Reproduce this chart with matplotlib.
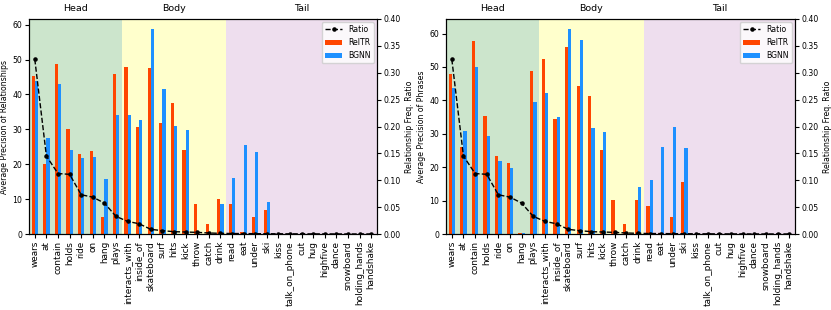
import numpy as np
import matplotlib.pyplot as plt

# ------------------------------------------------
# data
predicates = [
    "wears", "at", "contain", "holds", "ride", "on", "hang", "plays",
    "interacts_with", "inside_of", "skateboard", "surf", "hits", "kick",
    "throw", "catch", "drink", "read", "eat", "under", "ski", "kiss",
    "talk_on_phone", "cut", "hug", "highfive", "dance", "snowboard",
    "holding_hands", "handshake",
]

ratio = [
    0.325, 0.145, 0.1125, 0.111, 0.073, 0.0686, 0.0575, 0.0328,
    0.0235, 0.019, 0.0087, 0.0062, 0.0043, 0.0037, 0.003, 0.0019,
    0.0012, 0.0009, 0.0008, 0.0006, 0.0005, 0.0004, 0.0003, 0.0003,
    0.0002, 0.0002, 0.0001, 0.0001, 0.0001, 0.0001,
]

# average precision of relationships
reltr_rel = [
    45.4, 20.2, 48.8, 30.1, 22.8, 23.9, 4.8, 45.9,
    47.8, 30.7, 47.6, 31.8, 37.6, 24.1, 8.7, 2.9,
    10.1, 8.5, 0.5, 5.0, 6.9, 0, 0, 0,
    0, 0, 0, 0, 0, 0,
]
bgnn_rel = [
    43.9, 27.5, 43.0, 24.1, 21.7, 22.1, 15.9, 34.1,
    34.1, 32.6, 58.7, 41.7, 30.9, 29.8, 0, 0,
    8.5, 16.0, 25.4, 23.6, 9.2, 0, 0, 0,
    0, 0, 0, 0, 0, 0,
]

# average precision of phrases
reltr_phr = [
    47.8, 25.9, 57.8, 35.3, 23.5, 21.4, 0.4, 48.7,
    52.4, 34.5, 56.0, 44.3, 41.3, 25.0, 10.2, 2.9,
    10.1, 8.4, 0.4, 5.0, 15.5, 0, 0, 0,
    0, 0, 0, 0, 0, 0,
]
bgnn_phr = [
    43.7, 30.9, 50.0, 29.2, 21.9, 19.7, 0.4, 39.5,
    42.1, 35.1, 61.3, 58.0, 31.7, 30.4, 0, 0,
    14.1, 16.1, 25.9, 32.0, 25.8, 0, 0, 0,
    0, 0, 0, 0, 0, 0,
]

# group boundaries (index of first predicate of each group)
groups = ["Head", "Body", "Tail"]
group_start = [0, 8, 17]
group_colors = [("green", 0.2), ("yellow", 0.2), ("purple", 0.13)]

RELTR_COLOR = "#ff4500"
BGNN_COLOR = "#1e90ff"
WIDTH = 0.28


def draw_panel(ax, reltr, bgnn, ylabel):
    x = np.arange(len(predicates))
    edges = group_start + [len(predicates)]
    for k, name in enumerate(groups):
        lo, hi = edges[k] - 0.5, edges[k + 1] - 0.5
        col, alpha = group_colors[k]
        ax.axvspan(lo, hi, color=col, alpha=alpha, lw=0)
        ax.text((lo + hi) / 2, 1.03, name, transform=ax.get_xaxis_transform(),
                ha="center", va="bottom", fontsize=6.8)

    b1 = ax.bar(x - WIDTH / 2, reltr, WIDTH, color=RELTR_COLOR, label="RelTR")
    b2 = ax.bar(x + WIDTH / 2, bgnn, WIDTH, color=BGNN_COLOR, label="BGNN")
    ax.set_xlim(-0.5, len(predicates) - 0.5)
    ax.set_xticks(x)
    ax.set_xticklabels(predicates, rotation=90, fontsize=6.4)
    ax.tick_params(axis="y", labelsize=5.6, length=3, pad=2)
    ax.tick_params(axis="x", length=3, pad=2)
    ax.set_ylabel(ylabel, fontsize=5.6, labelpad=2)

    ax_r = ax.twinx()
    (ln,) = ax_r.plot(x, ratio, "k--", marker=".", markersize=4.5, lw=1.0,
                      label="Ratio")
    ax_r.set_ylim(0, 0.4)
    ax_r.set_yticks(np.arange(0, 0.41, 0.05))
    ax_r.tick_params(axis="y", labelsize=5.6, length=3, pad=2)
    ax_r.set_ylabel("Relationship Freq. Ratio", fontsize=5.6, labelpad=3)
    ax_r.legend([ln, b1, b2], ["Ratio", "RelTR", "BGNN"], loc="upper right",
                fontsize=5.6, handlelength=2.2, borderaxespad=0.4)


fig = plt.figure(figsize=(8.31, 3.10), dpi=100)
ax1 = fig.add_axes([29 / 831, 76 / 310, 348 / 831, 215 / 310])
ax2 = fig.add_axes([446 / 831, 76 / 310, 349 / 831, 215 / 310])

draw_panel(ax1, reltr_rel, bgnn_rel, "Average Precision of Relationships")
draw_panel(ax2, reltr_phr, bgnn_phr, "Average Precision of Phrases")

fig.savefig("out.png", dpi=100)
